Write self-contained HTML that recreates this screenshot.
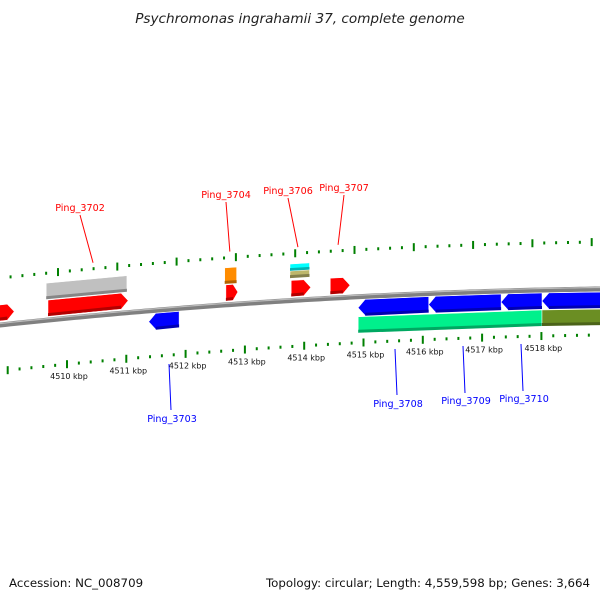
<!DOCTYPE html>
<html><head><meta charset="utf-8"><style>
html,body{margin:0;padding:0;background:#fff;}
svg{display:block;font-family:"DejaVu Sans","Liberation Sans",sans-serif;}
</style></head><body>
<svg id="chart" width="600" height="600" viewBox="0 0 600 600">
<text x="300" y="23" text-anchor="middle" font-size="13.6" font-style="italic" fill="#222">Psychromonas ingrahamii 37, complete genome</text>
<text x="9" y="587" font-size="11.8" fill="#111">Accession: NC_008709</text>
<text x="590" y="587" text-anchor="end" font-size="11.8" fill="#111">Topology: circular; Length: 4,559,598 bp; Genes: 3,664</text>
<g id="ticks"></g>
<path id="backbone" fill="none" stroke="#808080" stroke-width="5"/>
<path id="backbone-hi" fill="none" stroke="#bbb" stroke-width="1.2"/>
<g id="genes"></g>
<g id="labels"></g>
</svg>
<script>
// data
const kbpTicks = [4510, 4511, 4512, 4513, 4514, 4515, 4516, 4517, 4518];
const geneStarts = [4508.6, 4509.68, 4509.65, 4512.68, 4512.66, 4513.78, 4513.76, 4514.44, 4511.38, 4514.91, 4516.10, 4517.32, 4518.01, 4514.91, 4518.01];
const geneEnds   = [4509.11, 4511.03, 4511.01, 4512.88, 4512.86, 4514.11, 4514.09, 4514.77, 4511.89, 4516.10, 4517.32, 4518.01, 4519.6, 4518.01, 4519.6];
const geneStrand = [1, 1, 1, 1, 1, 1, 1, 1, -1, -1, -1, -1, -1, -1, -1];
const geneLane   = [1, 1, 2, 1, 2, 1, 2, 1, 1, 1, 1, 1, 1, 2, 2];
const geneColor  = ["#ff0000","#ff0000","#c0c0c0","#ff0000","#ff8c00","#ff0000","cyanKhaki","#ff0000","#0000ff","#0000ff","#0000ff","#0000ff","#0000ff","#00f08c","#6b8e23"];
const geneArrow  = [true,true,false,true,false,true,false,true,true,true,true,true,true,false,false];
const labelNames = ["Ping_3702","Ping_3704","Ping_3706","Ping_3707","Ping_3703","Ping_3708","Ping_3709","Ping_3710"];
const labelGene  = [1, 3, 5, 7, 8, 9, 10, 11];
const labelX     = [80, 226, 288, 344, 172, 398, 466, 524];

const NS="http://www.w3.org/2000/svg";
const X = k => 67 + (k - 4510) * 59.3;
const Y = x => 7.78e-5*x*x - 0.1067*x + 325;
const mk = (tag, attrs, parent) => { const e=document.createElementNS(NS,tag); for(const a in attrs) e.setAttribute(a, attrs[a]); parent.appendChild(e); return e; };

let d=""; for(let x=-5;x<=605;x+=5){ d += (x===-5?"M":"L")+x+","+Y(x).toFixed(2); }
document.getElementById('backbone').setAttribute('d', d);
let d2=""; for(let x=-5;x<=605;x+=5){ d2 += (x===-5?"M":"L")+x+","+(Y(x)-1.5).toFixed(2); }
document.getElementById('backbone-hi').setAttribute('d', d2);

const tg=document.getElementById('ticks');
for(let k=4509; k<=4519.01; k+=0.2){
  const major = Math.abs(k-Math.round(k))<0.01;
  const xl = X(k);
  if(xl>=0 && xl<=600){
    const yl = Y(xl)+46;
    const t = mk('rect',{x:xl-1,y:major?yl-4:yl-1.5,width:2,height:major?8:3,fill:"#008000"},tg);
    
    
  }
  const xu = X(k)-9;
  if(xu>=0 && xu<=600){
    const yu = Y(xu)-47;
    const t = mk('rect',{x:xu-1,y:major?yu-4:yu-1.5,width:2,height:major?8:3,fill:"#008000"},tg);
    
    
  }
}
kbpTicks.forEach(k=>{
  const x=X(k)+2; const y=Y(x)+46+15;
  const t=mk('text',{x:x,y:y,'text-anchor':'middle','font-size':8,fill:"#111"},tg);
  t.textContent=k+" kbp";
  
  
});

const gg=document.getElementById('genes');
function shade(c,f){ const n=parseInt(c.slice(1),16); let r=n>>16,g=(n>>8)&255,b=n&255; r=Math.round(r*f);g=Math.round(g*f);b=Math.round(b*f); return "rgb("+r+","+g+","+b+")"; }
function geneShape(x1,x2,off,h,strand,arrow,color,name){
  const top=x=>Y(x)+off-h/2, bot=x=>Y(x)+off+h/2;
  let pts;
  const a=Math.min(7,(x2-x1)*0.4);
  if(!arrow){ pts=[[x1,top(x1)],[x2,top(x2)],[x2,bot(x2)],[x1,bot(x1)]]; }
  else if(strand>0){ pts=[[x1,top(x1)],[x2-a,top(x2-a)],[x2,Y(x2)+off],[x2-a,bot(x2-a)],[x1,bot(x1)]]; }
  else { pts=[[x1+a,top(x1+a)],[x2,top(x2)],[x2,bot(x2)],[x1+a,bot(x1+a)],[x1,Y(x1)+off]]; }
  const p=mk('polygon',{points:pts.map(q=>q[0].toFixed(1)+","+q[1].toFixed(1)).join(" "),fill:color,stroke:"#fff","stroke-width":0.5},gg);
  
  
  const s=mk('polygon',{points:[[x1+(arrow&&strand<0?a:0),bot(x1)-3],[x2-(arrow&&strand>0?a:0),bot(x2)-3],[x2-(arrow&&strand>0?a:0),bot(x2)],[x1+(arrow&&strand<0?a:0),bot(x1)]].map(q=>q[0].toFixed(1)+","+q[1].toFixed(1)).join(" "),fill:shade(color,0.7)},gg);
  
  
}
for(let i=0;i<geneStarts.length;i++){
  const x1=X(geneStarts[i]), x2=X(geneEnds[i]);
  const o = geneStrand[i]>0 ? (geneLane[i]===1?-12:-29) : (geneLane[i]===1?11:28);
  if(geneColor[i]==="cyanKhaki"){
    geneShape(x1,x2,o-4,7,1,false,"#00ffff","gene-cyan-"+i);
    geneShape(x1,x2,o+3,7,1,false,"#bdb76b","gene-khaki-"+i);
  } else {
    geneShape(x1,x2,o,16,geneStrand[i],geneArrow[i],geneColor[i],"gene-"+i);
  }
}

const lg=document.getElementById('labels');
labelNames.forEach((n,i)=>{
  const gi=labelGene[i]; const fwd=geneStrand[gi]>0;
  const gx=(X(geneStarts[gi])+X(geneEnds[gi]))/2;
  const col=fwd?"#ff0000":"#0000ff";
  const lx=labelX[i];
  let ty;
  if(fwd){ const ax=gx+ (i===0?5:(i===2?-3:(i===3?-2:-2))); const y2=Y(ax)-53; ty=lx===80?211:(lx===226?198:(lx===288?194:191)); const y1=ty+4;
    const l=mk('line',{x1:lx,y1:y1,x2:ax,y2:y2,stroke:col,"stroke-width":1},lg);
     
  } else { const base={172:[364,410,422],398:[349,395,407],466:[346,393,404],524:[344,391,402]}[lx];
    const l=mk('line',{x1:lx-3,y1:base[0],x2:lx-1,y2:base[1],stroke:col,"stroke-width":1},lg);
     
    ty=base[2];
  }
  const t=mk('text',{x:lx,y:ty,'text-anchor':'middle','font-size':9.6,fill:col},lg);
  t.textContent=n;
  
  
});
</script>
</body></html>
